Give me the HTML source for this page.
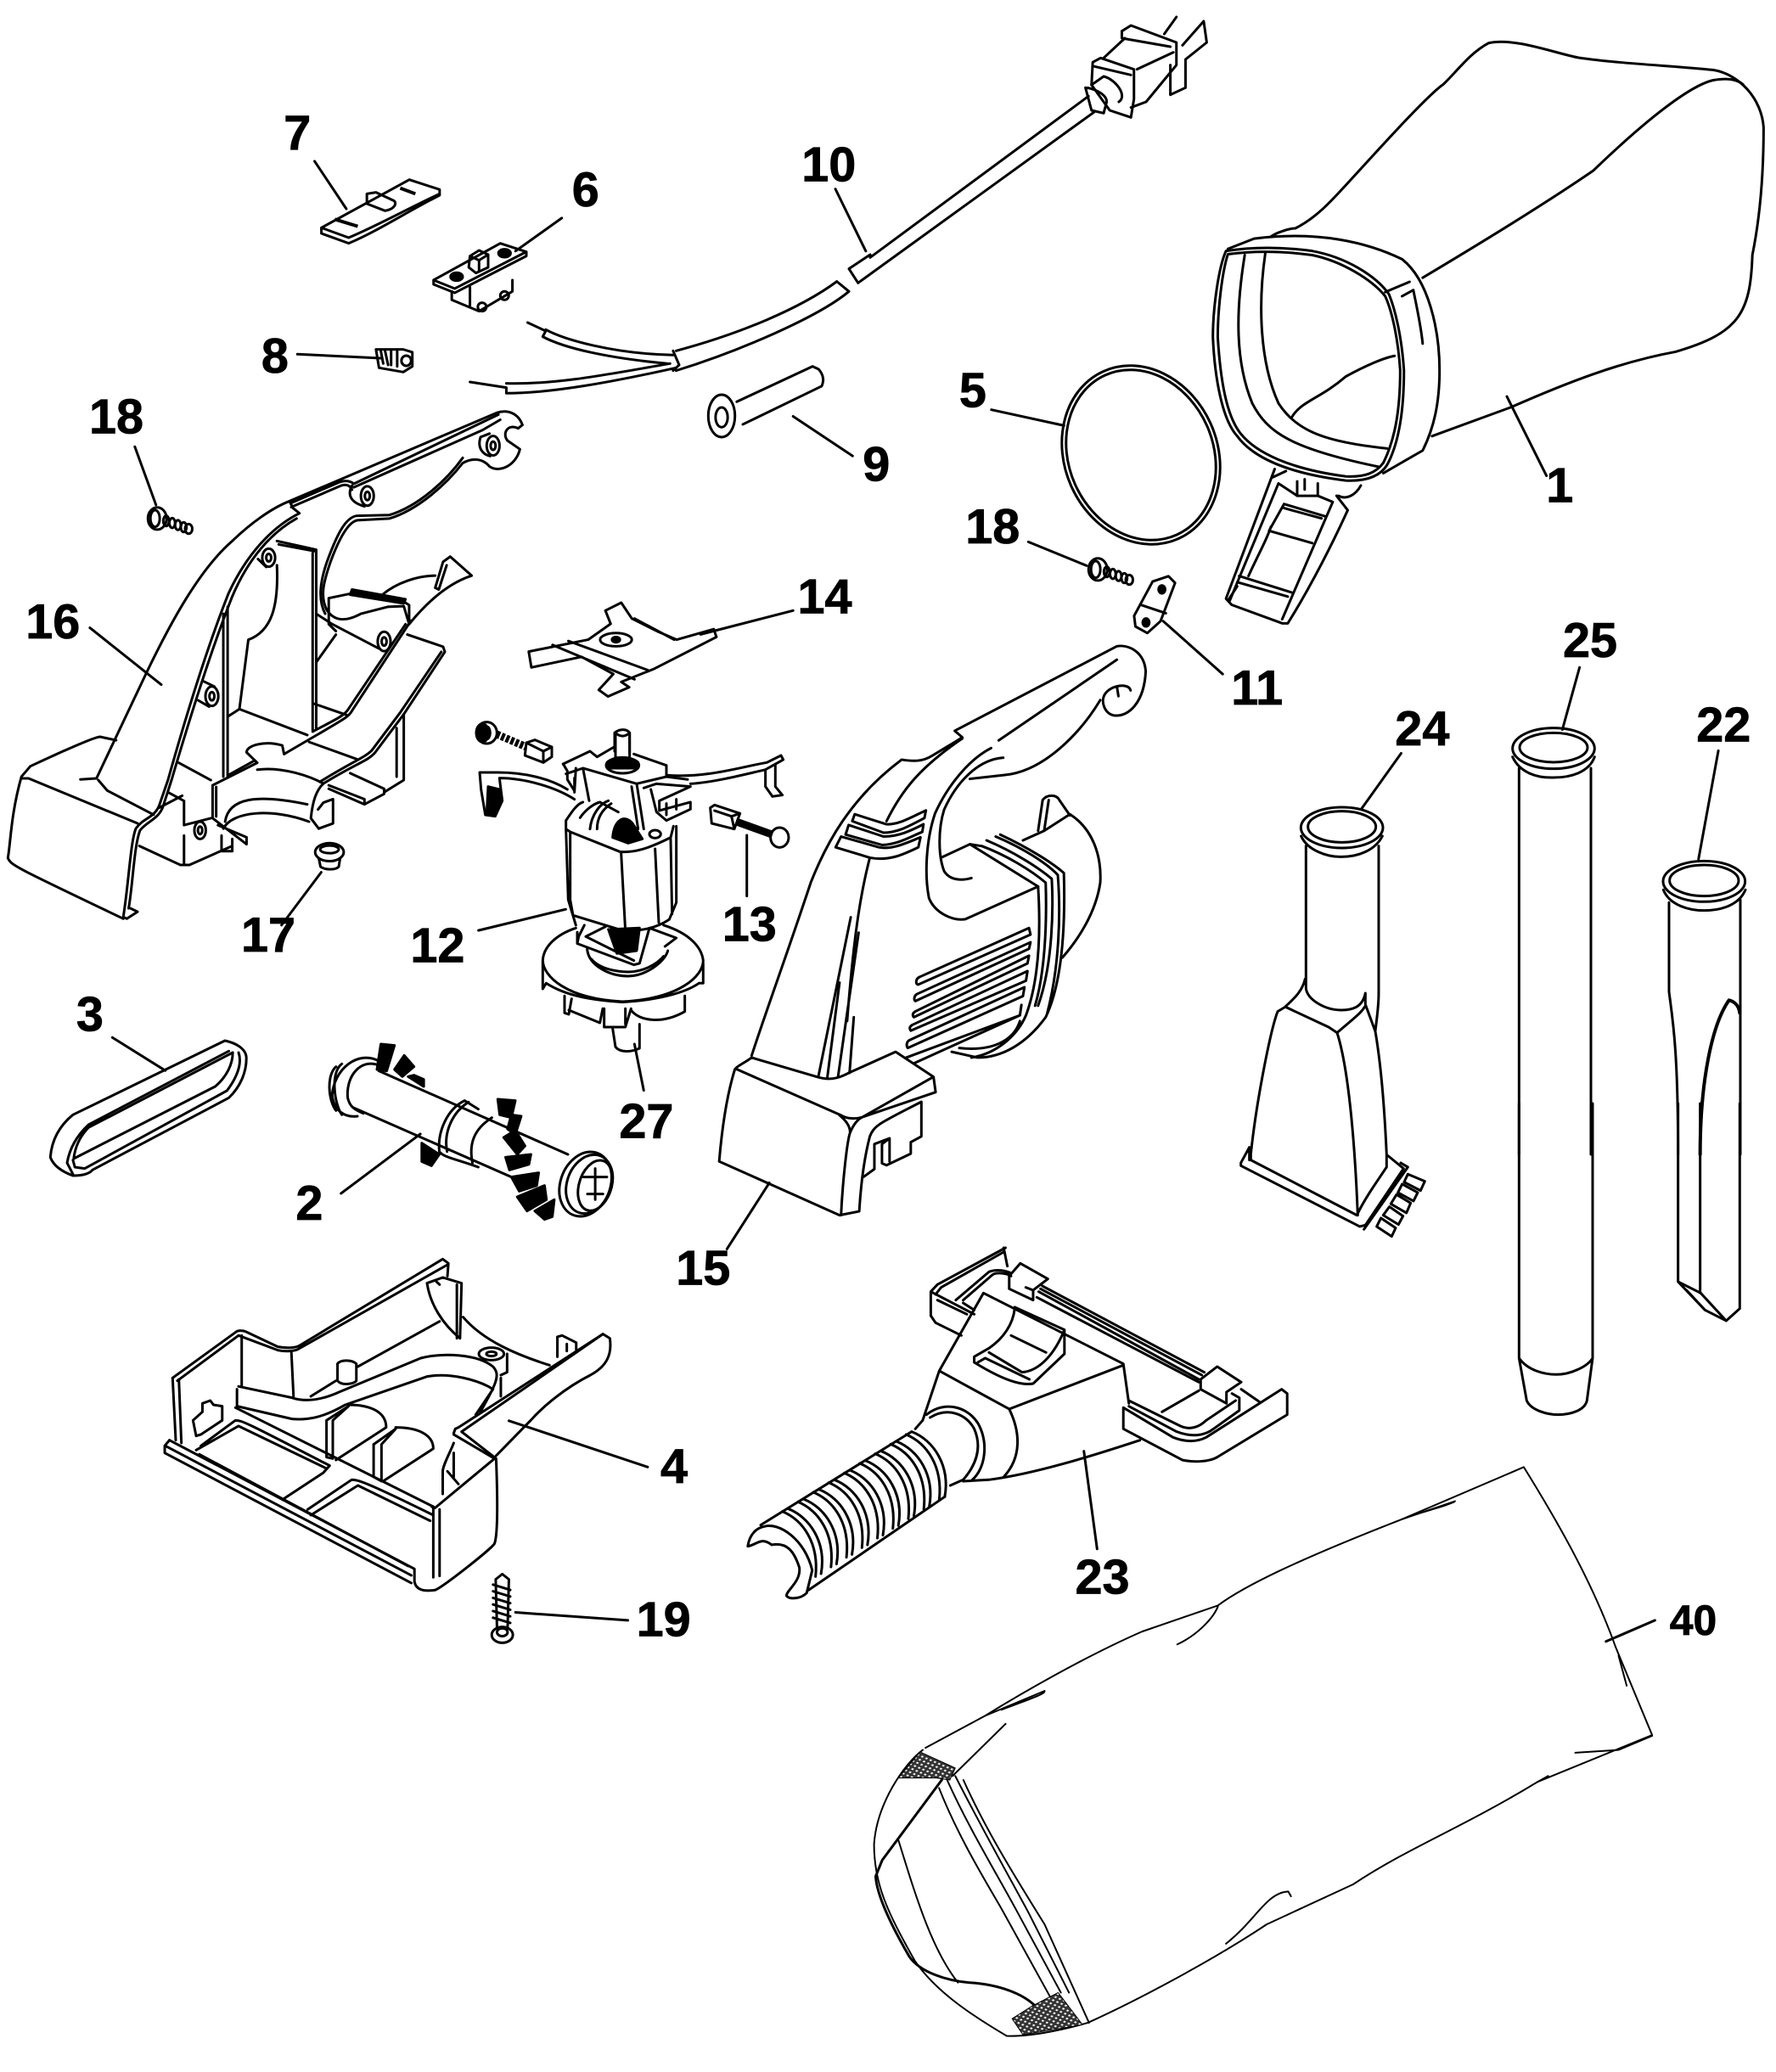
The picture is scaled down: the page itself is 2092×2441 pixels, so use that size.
<!DOCTYPE html>
<html>
<head>
<meta charset="utf-8">
<title>Exploded parts diagram</title>
<style>
html,body{margin:0;padding:0;background:#fff}
svg{display:block}
.p path,.p ellipse,.p line{fill:none;stroke:#000;stroke-width:3;stroke-linejoin:round;stroke-linecap:round;vector-effect:non-scaling-stroke}
.p path.k,.p ellipse.k{fill:#000}
.p path.t{stroke-width:2}
.p path.b{stroke-width:4;stroke-linecap:butt}
.p path.h{fill:url(#h);stroke-width:1}
text{font-family:"Liberation Sans",sans-serif;font-weight:700;font-size:37px;text-anchor:middle;fill:#000;stroke:#000;stroke-width:.5}
</style>
</head>
<body>
<svg xmlns="http://www.w3.org/2000/svg" width="2092" height="2441" viewBox="0 0 2092 2441">
<defs>
<pattern id="h" width="9" height="9" patternUnits="userSpaceOnUse" patternTransform="rotate(30)">
<rect width="9" height="9" fill="#333"/><rect x="2" y="2" width="4" height="4" fill="#fff"/>
</pattern>
</defs>
<rect width="2092" height="2441" fill="#fff"/>
<g class="p">

<!-- housing 16 + screw 18 + nut 17 -->
<g transform="translate(0 470) scale(.4209 .4082)">
<path d="M225 1098L270 1095L410 790C480 640 560 490 650 410C700 360 760 315 810 295L1390 40C1420 30 1450 40 1462 75"/>
<path d="M810 295L820 315L838 330C760 370 690 450 640 560C590 690 530 880 470 1100L445 1175C430 1210 400 1210 380 1240C365 1280 360 1400 345 1495L355 1500L385 1480L365 1470"/>
<path d="M830 345C760 385 695 460 650 570C600 700 540 890 480 1100L455 1180C440 1215 410 1220 392 1245C375 1290 372 1400 360 1470"/>
<path d="M815 300L950 240C970 232 985 240 990 245L1395 45M815 312L955 250C970 245 980 250 985 262M990 255L1350 90L1400 60"/>
<path d="M1462 75L1450 85C1420 70 1405 100 1420 120L1455 145C1445 190 1400 215 1370 195C1350 170 1320 170 1295 185C1250 245 1170 320 1090 345L1000 350C975 355 950 400 925 470C905 530 895 570 915 610C935 640 965 645 1010 620L1085 600L1130 598L1145 650C1200 580 1260 530 1320 510L1260 455L1240 470L1218 545L1228 550L1250 480"/>
<path d="M1295 170C1250 235 1170 310 1090 335L1000 337C965 340 940 400 915 470C895 530 890 580 910 620"/>
<path d="M1218 510C1170 510 1110 530 1070 565M1140 680L1240 715L1245 730L1130 910L1050 1020C1030 1045 1000 1050 905 1110C885 1130 875 1160 870 1210L892 1240L932 1225V1155L905 1165L890 1185"/>
<path d="M1235 730L1120 905L1040 1015C1020 1035 990 1045 895 1105"/>
<path d="M1150 640L985 900C975 920 960 925 795 1025L790 1000C740 985 690 1000 690 1020L720 1050L595 1115V1210L690 1285V1265L610 1230"/>
<path d="M1135 650L975 895C965 912 950 920 875 960M710 1045L640 1085M605 1120V1205"/>
<path d="M625 620V1090M637 600V1090M775 480C780 600 760 670 695 695L670 895L640 915M780 420L885 440M775 410L885 435V950M875 445V955M885 620L930 650L1060 720M885 760L940 680M670 895L860 970M880 880L970 912M865 990L1000 1040M500 1050L590 1100M980 1080L1075 1125V1140L1020 1170L920 1125M1075 1135L1130 1100V910M1110 950V1090M1020 1170V1155L920 1115"/>
<path d="M630 1220C640 1150 720 1140 860 1170M625 1240C650 1190 760 1180 865 1220M720 1070C790 1060 870 1090 905 1110"/>
<path d="M325 985L280 975C260 975 85 1060 85 1060L60 1090C30 1200 30 1280 22 1325C30 1345 40 1350 345 1500M60 1095L80 1095L385 1225M275 1100L300 1130L430 1200M390 1290L505 1345L530 1345L650 1290M515 1260V1345M470 1135L515 1160V1230L590 1210M445 1180L510 1145M620 1260V1305L650 1305V1270"/>
<path class="k" d="M985 550L1135 578L1130 590L980 565Z"/>
<path d="M920 575L990 560L1130 585L1145 595V650M920 575V650L940 670"/>
<ellipse cx="1380" cy="135" rx="18" ry="28"/><ellipse cx="1380" cy="135" rx="7" ry="12"/>
<path d="M1345 110L1370 100M1345 110C1335 140 1350 160 1372 165"/>
<ellipse cx="1028" cy="280" rx="18" ry="28"/><ellipse cx="1028" cy="280" rx="7" ry="12"/>
<path d="M985 250C970 280 985 300 1020 310"/>
<ellipse cx="752" cy="458" rx="18" ry="26"/><ellipse cx="752" cy="458" rx="7" ry="11"/>
<path d="M722 462L745 485"/>
<ellipse cx="593" cy="858" rx="18" ry="28"/><ellipse cx="593" cy="858" rx="7" ry="12"/>
<path d="M570 815L600 830M555 870L585 888"/>
<ellipse cx="1075" cy="700" rx="18" ry="28"/><ellipse cx="1075" cy="700" rx="7" ry="12"/>
<ellipse cx="560" cy="1245" rx="16" ry="25"/><ellipse cx="560" cy="1245" rx="6" ry="11"/>
<!-- 17 -->
<ellipse cx="922" cy="1308" rx="40" ry="26"/><ellipse cx="922" cy="1300" rx="26" ry="11"/>
<path d="M892 1325L897 1350C910 1360 940 1360 948 1350L952 1325"/>
<!-- 18 -->
<g id="sc">
<ellipse cx="440" cy="345" rx="26" ry="32"/><ellipse cx="434" cy="345" rx="13" ry="24"/>
<ellipse cx="465" cy="352" rx="8" ry="15"/><ellipse cx="482" cy="358" rx="8" ry="14"/><ellipse cx="498" cy="364" rx="8" ry="14"/><ellipse cx="514" cy="370" rx="8" ry="14"/><ellipse cx="528" cy="375" rx="10" ry="14"/>
</g>
</g>

<!-- right screw 18 -->
<g transform="translate(1108 60)">
<g transform="translate(0 470) scale(.4209 .4082)"><use href="#sc"/></g>
</g>

<!-- body 15 -->
<g transform="translate(830 750) scale(.3571 .4529)">
<path d="M155 1090C200 980 270 830 350 640C400 540 480 420 650 320C690 325 720 325 750 310L830 272L850 262L825 245L1360 25C1400 20 1450 40 1455 90C1450 170 1400 210 1350 205C1320 200 1305 170 1320 150C1340 125 1400 120 1405 140M1360 130L1365 155"/>
<path d="M1305 165C1240 250 1120 350 990 360L875 370M945 290C870 320 800 390 760 460C730 530 725 620 740 680C760 720 820 740 860 735L1100 650M985 315C900 320 830 380 790 450C770 500 770 570 790 610C810 635 850 635 880 628M780 575L875 540L915 545M970 270L1360 60M600 480C650 400 710 340 850 265"/>
<path d="M495 462L600 488C640 490 680 470 730 452L725 472C680 490 640 510 590 510L487 480Z"/>
<path d="M475 490L590 520C640 520 680 505 722 488L718 508C680 520 640 540 585 542L465 515Z"/>
<path d="M450 520L575 548C620 555 670 535 712 522L705 548C660 565 610 585 545 575L432 548Z"/>
<path d="M545 575C510 680 490 800 470 1000M482 730L375 1145M508 770L440 1145M445 900L405 1145M492 990L478 1135"/>
<path d="M155 1095L370 1145C410 1155 440 1150 475 1135L630 1080L755 1145L762 1185L520 1250M105 1125L450 1245C470 1255 500 1255 520 1250L755 1145M155 1095C130 1110 110 1115 100 1125C70 1200 55 1300 48 1365L445 1505L510 1495C515 1430 525 1360 545 1300C560 1270 580 1265 715 1210V1300L680 1315V1345L600 1375L585 1370V1320L610 1305V1365M610 1305L560 1320V1385L525 1405M450 1505C455 1420 470 1310 480 1290C480 1270 460 1255 445 1245M480 1290C490 1270 505 1255 520 1250"/>
<path d="M710 885L1070 758L1075 775L705 905C695 905 695 890 710 885Z"/>
<path d="M700 930L1075 795L1070 812L695 948C690 945 690 935 700 930Z"/>
<path d="M695 975L1070 830L1065 850L690 990C685 985 685 980 695 975Z"/>
<path d="M685 1010L1065 870L1060 895L680 1025C675 1020 675 1015 685 1010Z"/>
<path d="M675 1050L1055 912L1050 935L670 1070C665 1065 665 1055 675 1050Z"/>
<path d="M1045 958L1040 985L665 1095M1040 985L690 1110"/>
<path d="M875 540L1100 650M915 545C1000 570 1080 610 1125 640C1130 760 1120 880 1090 960M930 530C1020 560 1100 600 1145 630C1150 700 1150 850 1100 960M960 520C1050 550 1130 590 1165 620C1175 720 1170 860 1130 980M975 515C1070 550 1150 590 1185 615C1190 750 1180 900 1125 990C1060 1060 980 1095 900 1095L815 1080M1100 650C1110 780 1100 900 1060 985C1030 1040 960 1085 880 1095M1040 1000C1020 1050 950 1080 840 1070"/>
<path d="M1050 530L1120 505L1205 462C1280 500 1310 570 1305 640C1290 720 1230 790 1180 835M1100 505L1115 425C1130 410 1160 410 1170 425L1205 465M1120 505L1135 425"/>
</g>

<!-- base 4 -->
<g transform="translate(170 1470) scale(.37 .3333)">
<path d="M90 460L295 295C310 290 320 295 330 300L425 350C450 355 480 355 495 345L950 40L968 55L965 100M105 470L300 310L425 362C450 368 480 365 490 358L965 60"/>
<path d="M90 460L100 680M110 465L118 690M310 310V490M468 365L475 525"/>
<path d="M80 680L860 1135V1180C865 1210 890 1215 925 1210C950 1200 1110 1060 1115 1045C1130 1000 1120 750 1120 745L1010 650L1460 305L1482 320C1490 380 1470 420 1420 450C1340 495 1270 560 1230 610L1120 735"/>
<path d="M65 700V725L850 1185M70 702L850 1158M80 680L65 700M175 730L840 1125M990 640L1000 635L1460 305M985 655L990 640M985 660L1115 745L925 920L915 915"/>
<path d="M295 500V560L470 605C520 610 570 600 640 555L900 455C980 440 1060 470 1095 490L1110 500L1055 590M300 490L470 530C510 545 560 540 620 510L880 390C950 370 1060 375 1110 420C1135 450 1120 480 1070 580"/>
<path d="M290 565L920 915M180 700L290 610C310 610 320 615 590 770L570 795L440 890M165 715L300 630L580 780M520 925L660 820C680 820 700 825 920 945M530 945L680 840L910 965"/>
<path d="M580 610V740L600 745V610L650 560L580 610M650 555C720 555 770 580 770 635L610 750M730 695V810L755 825V695L800 640L730 695M800 635C870 635 920 660 920 710L760 825"/>
<path d="M615 410V470C630 490 670 480 675 470V410C660 395 625 395 615 410M680 420L940 260M530 525L610 470"/>
<path d="M900 125C910 200 950 270 1005 320L1010 125L950 105L900 125M930 120L940 130M995 130V320M1015 245C1080 330 1190 380 1290 415M1315 315L1330 310L1375 335V360M1315 315V385M1345 340V365"/>
<ellipse cx="1105" cy="375" rx="40" ry="22"/><ellipse cx="1105" cy="375" rx="16" ry="8"/>
<path d="M1155 375V440L1135 450M1135 460V525"/>
<path d="M155 610L185 580V550L210 540L220 555L248 560V610L180 660L165 665Z"/>
<path d="M985 690C975 720 950 770 950 790V870M965 790L1000 835M985 725V810M920 915V1165M940 925V1160"/>
</g>

<!-- screw 19 -->
<g transform="scale(1.557)">
<path d="M375 1195L380 1191L385 1195L384 1232H376ZM373 1199L386 1203M373 1204L386 1208M373 1209L386 1213M373 1214L386 1218M373 1219L386 1223M373 1224L386 1228"/>
<ellipse cx="380" cy="1237" rx="8" ry="6"/>
<ellipse cx="380" cy="1235" rx="4" ry="3"/>
</g>

<!-- nozzle 23 -->
<g transform="translate(870 1460) scale(.4337 .3333)">
<path d="M725 30L540 160L522 185V270L535 295L605 340M720 30L730 95M535 195L550 170L720 45M522 185L640 265M540 215L620 265"/>
<path d="M610 215L690 125C700 115 730 120 740 130M590 215L680 115C700 105 725 110 740 120M610 225L640 250"/>
<path d="M735 130L765 85L840 140L800 180V215L735 175ZM800 180L780 170"/>
<path d="M825 165L1265 470M820 175L1258 480M815 185L1250 495M810 205L1250 505"/>
<path d="M665 190L545 465L500 640M665 190L1045 440L1060 580M545 465L735 600L1045 445M735 600C765 680 770 770 720 840"/>
<path d="M750 240L885 320V405L800 510C780 515 740 515 640 435V415L680 385C720 350 745 300 750 245M680 400L770 470C820 465 860 400 885 320M740 340L835 400M650 435L670 420L790 495"/>
<path d="M1045 595V670L1205 780C1240 790 1280 785 1300 770L1490 620V545L1475 530L1270 700C1240 720 1210 715 1180 700L1045 595M1060 590L1190 680C1230 700 1265 695 1290 670L1360 605V560L1340 545M1060 570L1200 660C1225 675 1250 665 1270 640L1350 570"/>
<path d="M1300 450L1365 505L1325 540V580L1255 530V495ZM1150 610L1250 535M1365 530L1415 575"/>
<path d="M1090 710C950 770 800 830 680 850L610 855"/>
<path d="M500 640L480 670M510 620C560 570 620 590 650 650C680 720 670 810 635 850M520 630C570 590 620 620 640 670C660 730 650 790 610 850L575 870"/>
<g id="rb"><path d="M470 680C530 710 575 800 560 910"/><path d="M455 690C510 720 555 800 545 920"/></g>
<use href="#rb" transform="translate(-42 34)"/>
<use href="#rb" transform="translate(-84 68)"/>
<use href="#rb" transform="translate(-126 102)"/>
<use href="#rb" transform="translate(-168 136)"/>
<use href="#rb" transform="translate(-210 170)"/>
<use href="#rb" transform="translate(-252 204)"/>
<use href="#rb" transform="translate(-294 238)"/>
<use href="#rb" transform="translate(-336 272)"/>
<path d="M470 680L60 1010M560 910L190 1240"/>
<path d="M25 1085C30 1040 50 1020 70 1015C110 1000 180 1060 200 1170L185 1250C170 1270 140 1275 130 1260C130 1240 170 1210 165 1160C150 1100 130 1070 90 1080C60 1050 50 1080 25 1085Z"/>
</g>

<!-- motor 12 -->
<g transform="translate(540 830) scale(.3333)">
<path d="M552 165V100C570 85 595 85 605 100V170M555 100C570 115 590 115 605 100"/>
<ellipse cx="580" cy="215" rx="58" ry="28"/>
<path class="k" d="M525 205C540 185 620 185 635 205L625 225L535 225Z"/>
<path d="M555 100V185C570 195 595 195 605 185V100"/>
<path d="M370 210L465 165L490 185L550 150M620 175L735 215V255L630 280L440 225L380 245M440 225L462 340M630 280L655 440M612 290L635 440M735 255L810 265"/>
<path d="M370 210L385 235V265L410 305V260M415 225L410 310"/>
<path d="M655 295L700 280L820 290L710 340V375L820 345V370L735 410L700 380L680 300M735 350V390M770 335V370"/>
<path d="M385 300C320 260 230 240 140 240L75 240L80 300L95 390L130 395L155 340L145 260C230 260 340 290 410 335"/>
<path class="k" d="M105 290L145 300L150 345L130 390L100 385Z"/>
<path d="M740 250C880 260 1000 220 1090 205L1140 180L1148 195L1085 230C1000 250 900 275 820 280M1085 230V290L1110 325L1145 320L1120 290V215"/>
<path d="M380 410C400 380 420 350 440 345M380 410V440L395 450L570 520C620 525 670 510 750 470L760 430M395 455V690L405 745L585 800C650 800 700 790 745 760L770 700V430M380 440L388 690L415 780M575 525L590 800M695 510L708 770M750 475L755 740"/>
<path d="M465 440C470 390 500 350 530 340M490 440C490 400 510 370 540 350M430 400C450 370 480 350 500 345L565 380"/>
<path class="k" d="M545 470C550 410 585 385 615 420L650 475L600 490Z"/>
<ellipse cx="695" cy="458" rx="20" ry="14"/>
<path class="k" d="M530 795L640 790L630 870L560 880Z"/>
<path d="M420 845V805M445 780L425 820L420 845L620 920L640 915L675 790L770 825L730 855M450 820L520 785M450 820L620 905"/>
<path d="M455 865C460 920 530 960 600 960C660 960 730 910 740 870M470 900C500 935 560 945 600 945C650 945 700 920 725 890"/>
<path d="M415 790C340 815 300 860 298 905C300 960 380 1040 580 1050C780 1040 865 960 865 905C860 860 820 810 725 780M298 905V1005L310 985C380 1030 470 1045 580 1052C700 1045 800 1020 850 985L865 985V915"/>
<path d="M375 1030V1090L390 1095L400 1040M390 1080L500 1125L510 1075M515 1075V1140L590 1140L610 1075M610 1080C640 1120 720 1130 800 1085V1030M590 1075V1130"/>
<path d="M545 1145L555 1210C570 1230 610 1230 640 1215V1130"/>
<ellipse cx="100" cy="100" rx="36" ry="38"/><ellipse class="k" cx="85" cy="100" rx="22" ry="32"/><ellipse cx="100" cy="100" rx="12" ry="22"/>
<path class="b" style="stroke-width:9;stroke-dasharray:4 2" d="M135 105L240 150"/>
<path d="M240 135L270 125L330 150V185L300 205L235 180ZM300 165L330 150M300 165V205M240 135L300 165"/>
<path d="M890 365L905 355L995 385L975 440L895 420ZM905 375L965 395L975 440M965 395L995 385"/>
<path class="b" style="stroke-width:9" d="M985 415L1110 460"/>
<ellipse cx="1135" cy="470" rx="32" ry="35"/>
</g>

<!-- bag 1 -->
<g transform="translate(1400 0) scale(.4413 .4847)">
<path d="M220 575C235 565 270 555 285 555C340 530 380 490 430 440C520 350 640 230 680 205C720 170 750 130 800 105C870 90 980 130 1040 140C1150 155 1300 160 1400 170C1470 180 1530 240 1535 310C1535 420 1525 530 1505 620C1500 760 1470 810 1300 855C1150 880 1010 930 860 990L650 1060"/>
<path d="M625 675C800 580 960 490 1080 415C1200 310 1330 210 1400 195C1430 190 1460 190 1480 205"/>
<path d="M105 605L175 580C350 560 480 590 570 630C640 680 670 800 670 900C670 980 655 1040 625 1095L520 1150"/>
<path d="M100 610C80 650 65 750 65 820C70 920 90 1020 130 1060C170 1110 260 1150 420 1168C470 1170 510 1160 530 1130C560 1080 575 1000 575 900C570 830 555 760 535 715C500 670 420 625 330 610C250 600 170 600 100 610Z"/>
<path d="M105 618C90 660 78 750 78 820C85 920 100 1010 140 1055C180 1100 270 1140 420 1158C470 1160 500 1150 520 1125C550 1070 565 1000 565 900C560 830 545 760 525 720C490 680 410 635 330 620C250 610 170 610 105 618Z"/>
<path d="M150 620C125 760 125 880 170 980C210 1050 270 1090 510 1135M205 615C185 740 190 880 240 980C290 1050 370 1075 530 1090M275 1015C300 975 350 970 420 915C470 890 520 870 550 865M525 710L590 685M570 720L600 705C610 750 620 790 625 835"/>
<path d="M230 1140L100 1455L115 1470L250 1515L265 1515C330 1420 390 1310 425 1240L395 1205M225 1160L260 1145M240 1175L110 1460M400 1205C420 1215 445 1205 460 1180M240 1175L290 1205L345 1205L385 1220L250 1505M345 1205V1175M290 1205V1170M310 1165V1190M255 1225L365 1255M255 1235L355 1260M255 1225L215 1290L330 1320M135 1400L275 1440M130 1415L265 1450M130 1425L105 1460M160 1400C190 1340 210 1310 220 1280"/>
</g>

<!-- ring 5 -->
<ellipse cx="1344" cy="536" rx="90" ry="108" transform="rotate(-24 1344 536)"/>
<ellipse cx="1344" cy="536" rx="85" ry="103" transform="rotate(-24 1344 536)"/>

<!-- bag 40 -->
<g transform="translate(1020 1700) scale(.6378 .4726)">
<path class="t" d="M110 760L220 680C280 630 400 535 510 470L650 405C700 355 800 290 990 190L1215 60C1270 180 1340 340 1385 510L1452 728L1240 845C1100 960 1000 1010 900 1100L740 1200C640 1290 500 1390 410 1445C360 1465 300 1480 260 1478C200 1430 130 1370 90 1290C40 1170 15 1100 15 1000C20 900 70 800 105 765"/>
<path class="t" d="M220 680L330 618C330 625 320 630 250 665M990 190L1088 145C1085 150 1060 160 1010 180M650 408C640 440 610 480 575 502M1390 530L1405 605M1240 845L1260 830M1452 730L1390 765L1310 772M665 1248C720 1190 740 1120 780 1118L785 1130M160 830L258 700"/>
<path d="M140 840L30 1040L18 1080C20 1130 50 1210 80 1280C100 1320 150 1340 190 1345C250 1350 290 1375 310 1400"/>
<path class="t" d="M135 860C170 980 220 1090 250 1160L340 1380M150 840C190 960 240 1070 280 1170L360 1370M165 830C210 950 260 1070 300 1170L375 1370M180 840C220 960 270 1070 330 1200L412 1445M60 990C90 1120 120 1260 170 1345"/>
<path class="h" d="M60 835L100 770L165 810L155 840L130 835Z"/>
<path class="h" d="M305 1405L355 1370L400 1450L290 1475L270 1435Z"/>
</g>

<!-- belt 3 + roller 2 -->
<g transform="translate(40 1200) scale(.4591 .3333)">
<path d="M490 78L100 340C60 385 45 440 42 490C50 520 70 540 100 555C130 555 145 545 150 535L500 280C530 240 545 190 545 140C545 105 515 85 490 78Z"/>
<path d="M500 115L140 375C105 420 90 470 85 510L100 550M510 120L140 385C115 420 105 460 102 495L465 240C495 205 510 160 510 120M525 120C535 160 520 210 495 255L130 530L105 525L100 500"/>
<path d="M885 185L1370 480M820 315L1225 560"/>
<path d="M885 150C830 110 770 180 765 270C770 330 800 350 830 345M790 160C760 190 770 300 790 340M885 165C840 140 800 200 805 280C810 310 820 320 845 335M775 170C750 200 755 290 775 325"/>
<path d="M1105 290C1060 320 1035 400 1040 470C1050 490 1080 495 1140 525M1115 295C1075 330 1050 400 1060 470M1175 350C1130 390 1115 440 1125 510M1105 290L1140 320"/>
<ellipse cx="1415" cy="585" rx="65" ry="115" transform="rotate(10 1415 585)"/>
<ellipse cx="1425" cy="585" rx="58" ry="105" transform="rotate(10 1425 585)"/>
<ellipse cx="1440" cy="590" rx="42" ry="90" transform="rotate(10 1440 590)"/>
<path d="M1410 560H1470M1440 530V640M1420 620H1460" style="stroke-width:3"/>
<path class="k" d="M890 90L925 95L905 185L880 180Z"/><path class="k" d="M950 130L975 170L945 205L925 180Z"/><path class="k" d="M975 200L1000 215V240L960 205Z"/><path class="k" d="M1190 285L1235 290L1225 350L1195 340Z"/><path class="k" d="M1225 340L1250 345L1235 410L1215 390Z"/>
<path class="k" d="M1205 420L1235 395L1260 450L1240 480Z"/><path class="k" d="M1210 490L1275 480L1270 515L1220 535Z"/><path class="k" d="M1225 560L1295 545L1290 590L1245 610Z"/><path class="k" d="M1240 630L1310 590L1315 640L1265 680Z"/><path class="k" d="M1285 680L1335 640L1330 700L1310 710Z"/><path class="k" d="M995 440L1040 480L1020 520L995 505Z"/>
</g>

<!-- top parts -->
<g transform="translate(350 20) scale(.7143 .3333)">
<path d="M40 745L185 575L235 610V630C180 690 130 760 85 800L40 765ZM40 745L85 780C130 740 180 680 235 625M115 625L130 620L160 650C165 660 160 680 145 685L115 660Z"/>
<path class="b" d="M62 715L100 740M170 605L195 625"/>
<path d="M225 930L335 800L378 830V845L260 975L225 945ZM225 930L260 960L378 830"/>
<ellipse class="k" cx="263" cy="918" rx="10" ry="14"/><ellipse class="k" cx="342" cy="835" rx="10" ry="14"/>
<path d="M285 845L300 825L315 840V885L295 905L283 885ZM285 845L300 860L315 840M300 860V900M255 970V1000L300 1040L355 970V930M285 955V1020"/>
<ellipse cx="305" cy="1025" rx="7" ry="15"/><ellipse cx="342" cy="985" rx="7" ry="15"/>
<path d="M130 1175L175 1175L190 1185V1235L175 1255L135 1240Z"/>
<ellipse cx="180" cy="1215" rx="8" ry="18"/>
<path d="M138 1180L142 1225M145 1180L150 1230M155 1180V1230M165 1180V1235"/>
<path d="M945 850L1305 280M925 940L1315 335M910 890L945 840M910 890L925 940"/>
<path d="M1300 250L1310 330L1330 340L1335 300C1335 270 1310 250 1300 250M1310 240L1330 210C1350 220 1370 280 1355 300"/>
<path d="M1312 160L1325 145L1380 185V290L1375 355L1340 330L1310 240ZM1315 175L1375 205M1360 50L1375 30L1450 90V170L1400 300L1375 320M1360 50V75L1440 105M1365 75L1330 145M1385 185L1445 125M1430 60L1450 0M1460 100L1495 15L1500 90L1465 150V250L1440 275V170"/>
<path d="M890 935L910 970C860 1060 730 1180 625 1250M890 935C830 1030 730 1120 625 1180M620 1180L630 1230L620 1250M410 1105C440 1140 520 1190 620 1195M380 1080L410 1110L405 1130C440 1170 510 1205 610 1225M285 1290L345 1310V1330C420 1330 520 1290 625 1240M345 1295C430 1300 520 1260 615 1225"/>
<path d="M725 1360L850 1235L860 1245C870 1270 868 1290 865 1305L735 1440"/>
<ellipse cx="700" cy="1410" rx="22" ry="75"/><ellipse cx="700" cy="1415" rx="10" ry="35"/>
</g>

<!-- 14, 11 -->
<g transform="scale(1.557)">
<path d="M400 493L445 484L462 472L458 462L470 456L478 468L498 478L512 484L540 476L542 482L495 506L470 516L476 520L460 527L453 522L464 510L440 497L402 505ZM418 488L480 514M430 485L490 507M480 468L510 484"/>
<ellipse cx="466" cy="484" rx="12" ry="5"/>
<ellipse class="k" cx="466" cy="484" rx="3" ry="2"/>
<path d="M872 440L884 436L889 441L878 470L868 479L859 474L858 466ZM864 458L882 464"/>
<ellipse class="k" cx="879" cy="446" rx="2.5" ry="3"/><ellipse class="k" cx="867" cy="471" rx="2.5" ry="3"/>
</g>

<!-- 24 -->
<g transform="translate(1450 930) scale(.3333)">
<ellipse cx="392" cy="135" rx="145" ry="72"/><ellipse cx="392" cy="132" rx="120" ry="55"/>
<path d="M248 165C270 215 340 240 392 238C450 238 510 215 535 165M265 200V700C265 740 330 780 390 780C430 780 465 770 475 720V760L510 855M522 200V720C522 770 515 810 510 855M262 670C250 720 215 745 190 770L165 785C140 850 90 1100 70 1290V1310L445 1505C470 1450 520 1380 550 1335V1290M195 770L345 840L375 860C445 800 460 790 475 765M375 860C420 1000 440 1300 448 1505M510 855C535 1000 545 1180 550 1290"/>
<path d="M65 1265L35 1320V1330L455 1545L475 1540L610 1340L555 1295M470 1555L625 1335L600 1320M65 1265V1310"/>
<path d="M625 1360L685 1385L670 1418L612 1388ZM605 1395L660 1425L645 1455L590 1425ZM585 1432L635 1462L620 1497L565 1465ZM560 1475L608 1508L592 1538L538 1505ZM530 1515L582 1550L568 1580L515 1545Z"/>
</g>

<!-- 25, 22 -->
<g transform="translate(1760 840) scale(.3333)">
<ellipse cx="210" cy="125" rx="145" ry="72"/><ellipse cx="210" cy="122" rx="120" ry="52"/>
<path d="M65 155C90 210 150 230 210 228C270 228 335 210 355 155M88 195V1560M342 195V1560"/>
<ellipse cx="742" cy="595" rx="145" ry="72"/><ellipse cx="742" cy="592" rx="122" ry="55"/>
<path d="M598 625C620 680 690 698 742 698C800 698 865 680 888 625M618 670V985C630 1080 650 1180 650 1560M870 660V1560"/>
<path d="M728 1560C728 1300 770 1100 830 1015C850 1020 865 1035 868 1060" style="stroke-width:4"/>
</g>
<g transform="translate(1760 1300) scale(.3333)">
<path d="M88 0V900L115 1050C130 1085 190 1100 225 1100C270 1100 320 1085 328 1050L348 900V0M88 900C120 945 180 958 220 958C270 958 330 930 348 900"/>
<path d="M650 0V630L745 730L820 768L868 725V0M728 0V670M650 630L730 670L820 768M680 660L745 730"/>
</g>

<!-- leaders -->
<g transform="scale(1.557)">
<line x1="238" y1="122" x2="262" y2="158"/>
<line x1="425" y1="165" x2="390" y2="190"/>
<line x1="632" y1="143" x2="655" y2="190"/>
<line x1="225" y1="268" x2="288" y2="271"/>
<line x1="102" y1="338" x2="118" y2="382"/>
<line x1="750" y1="310" x2="805" y2="322"/>
<line x1="645" y1="345" x2="600" y2="315"/>
<line x1="1170" y1="360" x2="1140" y2="300"/>
<line x1="778" y1="410" x2="822" y2="428"/>
<line x1="600" y1="462" x2="530" y2="480"/>
<line x1="68" y1="475" x2="122" y2="518"/>
<line x1="925" y1="510" x2="880" y2="470"/>
<line x1="1060" y1="570" x2="1030" y2="612"/>
<line x1="1195" y1="505" x2="1182" y2="552"/>
<line x1="1300" y1="568" x2="1285" y2="650"/>
<line x1="565" y1="678" x2="565" y2="632"/>
<line x1="213" y1="700" x2="243" y2="660"/>
<line x1="362" y1="704" x2="428" y2="688"/>
<line x1="85" y1="785" x2="125" y2="810"/>
<line x1="487" y1="825" x2="480" y2="790"/>
<line x1="258" y1="903" x2="318" y2="858"/>
<line x1="550" y1="945" x2="582" y2="895"/>
<line x1="490" y1="1110" x2="385" y2="1075"/>
<line x1="830" y1="1172" x2="820" y2="1098"/>
<line x1="475" y1="1226" x2="390" y2="1220"/>
<line x1="1252" y1="1226" x2="1215" y2="1242"/>
</g>
</g>

<g transform="scale(1.557)">
<text x="225" y="113">7</text>
<text x="443" y="156">6</text>
<text x="627" y="137">10</text>
<text x="208" y="282">8</text>
<text x="88" y="328">18</text>
<text x="736" y="308">5</text>
<text x="663" y="364">9</text>
<text x="1180" y="380">1</text>
<text x="751" y="411">18</text>
<text x="624" y="464">14</text>
<text x="40" y="483">16</text>
<text x="951" y="533">11</text>
<text x="1076" y="564">24</text>
<text x="1203" y="497">25</text>
<text x="1304" y="561">22</text>
<text x="567" y="712">13</text>
<text x="203" y="720">17</text>
<text x="331" y="728">12</text>
<text x="68" y="780">3</text>
<text x="489" y="861">27</text>
<text x="234" y="923">2</text>
<text x="532" y="972">15</text>
<text x="510" y="1122">4</text>
<text x="834" y="1206">23</text>
<text x="502" y="1238">19</text>
<text x="1281" y="1237" style="font-size:32px">40</text>
</g>
</svg>
</body>
</html>
